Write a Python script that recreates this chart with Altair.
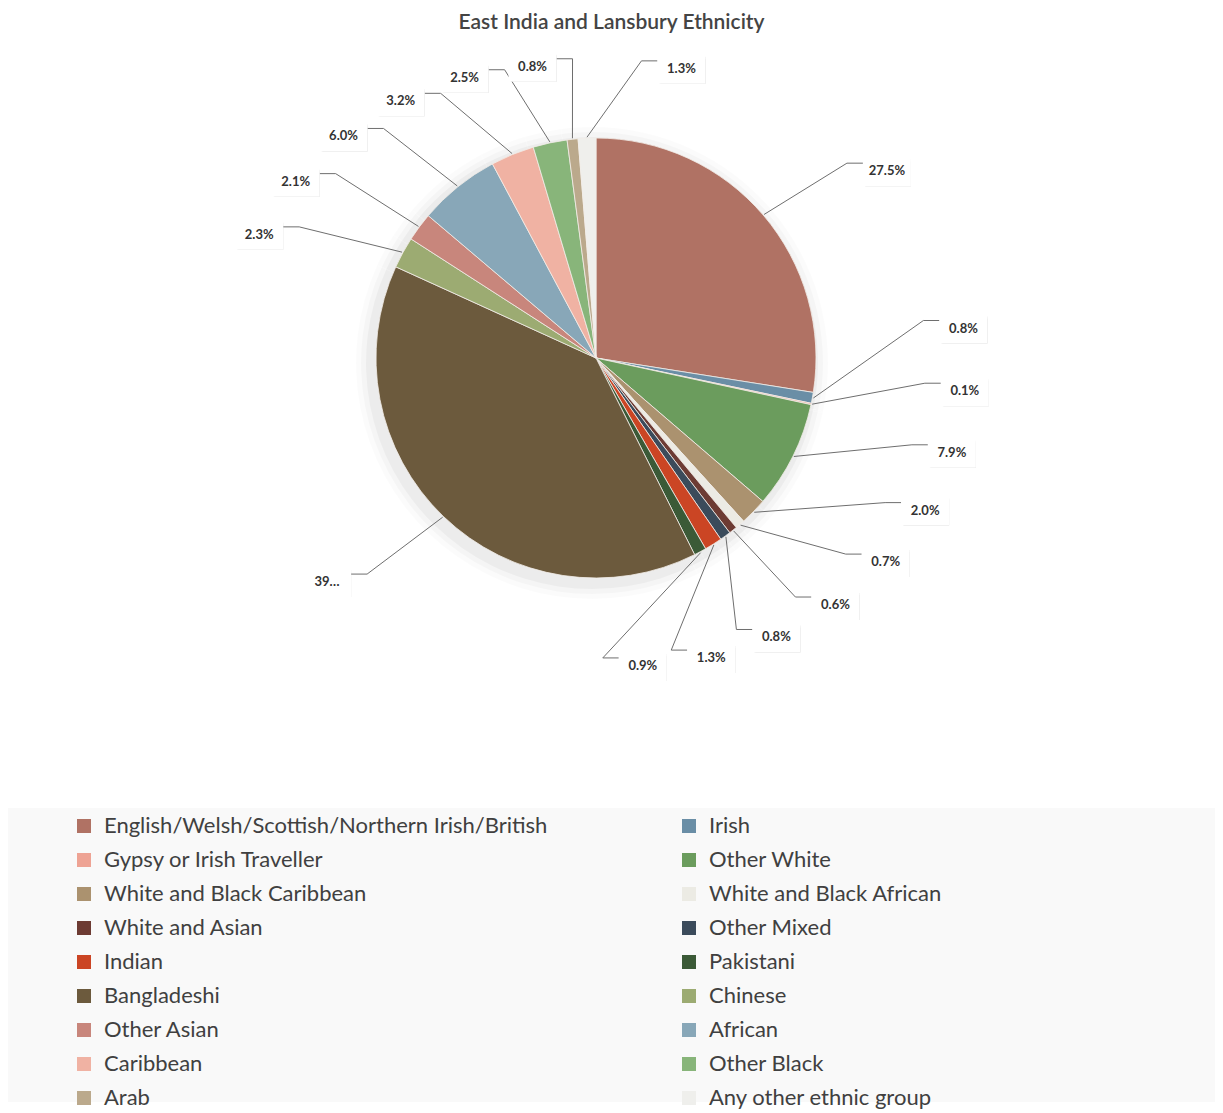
import altair as alt
import pandas as pd
import numpy as np

# ---------------- data ----------------
categories = [
    "English/Welsh/Scottish/Northern Irish/British", "Irish",
    "Gypsy or Irish Traveller", "Other White",
    "White and Black Caribbean", "White and Black African",
    "White and Asian", "Other Mixed",
    "Indian", "Pakistani",
    "Bangladeshi", "Chinese",
    "Other Asian", "African",
    "Caribbean", "Other Black",
    "Arab", "Any other ethnic group",
]
shares = [27.5, 0.8, 0.1, 7.9, 2.0, 0.7, 0.6, 0.8, 1.3, 0.9,
          39.2, 2.3, 2.1, 6.0, 3.2, 2.5, 0.8, 1.3]
label_texts = ["27.5%", "0.8%", "0.1%", "7.9%", "2.0%", "0.7%", "0.6%", "0.8%",
               "1.3%", "0.9%", "39…", "2.3%", "2.1%", "6.0%", "3.2%", "2.5%",
               "0.8%", "1.3%"]
colors = ["#b07264", "#6a8ea6", "#eea394", "#6b9c5d", "#ab926f", "#ecebe4",
          "#6d3b33", "#3b4b5b", "#cb4524", "#3b5a37", "#6c5a3d", "#9cab72",
          "#c8867c", "#88a7b8", "#f0b2a3", "#88b57a", "#bba98c", "#efefec"]

# legend reads row by row in two columns; Vega fills column by column
legend_domain = categories[0::2] + categories[1::2]
legend_range = colors[0::2] + colors[1::2]

# ---------------- layout constants ----------------
W, H = 1207, 1061
CX, CY, R = 588, 317, 220
RX, RY = 330, 300
BW, BH = 48, 30

df = pd.DataFrame({"cat": categories, "share": shares, "idx": range(len(shares)),
                   "lab": label_texts})

# label layout derived from the slice angles (pushed apart to avoid overlap)
vals = np.array(shares, dtype=float)
cum = np.concatenate([[0], np.cumsum(vals)[:-1]])
mid = (cum + vals / 2) / vals.sum() * 360.0
a = np.where(mid >= 260, mid - 360, mid)
order = np.argsort(a)
pos = a[order].copy()
gap = 12.0
for _ in range(3000):
    moved = False
    for i in range(len(pos) - 1):
        d = pos[i + 1] - pos[i]
        if d < gap - 1e-6:
            s = (gap - d) / 2
            pos[i] -= s
            pos[i + 1] += s
            moved = True
    if not moved:
        break
spread = np.empty_like(pos)
spread[order] = pos

rad = np.radians(mid)
lrad = np.radians(spread)
ex = CX + (R + 1) * np.sin(rad)
ey = CY - (R + 1) * np.cos(rad)
bx = CX + RX * np.sin(lrad)
by = CY - RY * np.cos(lrad)
side = np.where(np.sin(lrad) >= 0, 1, -1)
hx = bx + side * 16
hy = by

df["x0"] = np.where(side > 0, hx, hx - BW)
df["x1"] = df["x0"] + BW
df["y0"] = hy - BH / 2 + 8
df["y1"] = df["y0"] + BH
df["tx"] = (df["x0"] + df["x1"]) / 2
df["ty"] = (df["y0"] + df["y1"]) / 2

lines = []
for i in range(len(categories)):
    lines.append({"cat": categories[i], "o": 0, "px": ex[i], "py": ey[i]})
    lines.append({"cat": categories[i], "o": 1, "px": bx[i], "py": by[i]})
    lines.append({"cat": categories[i], "o": 2, "px": hx[i], "py": hy[i]})
lines_df = pd.DataFrame(lines)

band_df = pd.DataFrame({"band": [0]})

# ---------------- marks ----------------
band = alt.Chart(band_df).mark_rect(color="#f9f9f9").encode(
    x=alt.value(0), x2=alt.value(W), y=alt.value(767), y2=alt.value(H)
)

base = alt.Chart(df)

shadows = [
    base.mark_arc(outerRadius=R + rr, color="#000000", opacity=op, strokeWidth=0).encode(
        theta=alt.Theta("share:Q", stack=True),
        order=alt.Order("idx:Q"),
        x=alt.value(CX - 4), y=alt.value(CY + 5),
    )
    for rr, op in [(16, 0.015), (11, 0.025), (6, 0.035)]
]

pie = base.mark_arc(outerRadius=R, stroke="#f3ede8", strokeWidth=0.8).encode(
    theta=alt.Theta("share:Q", stack=True),
    order=alt.Order("idx:Q"),
    x=alt.value(CX), y=alt.value(CY),
    color=alt.Color(
        "cat:N",
        scale=alt.Scale(domain=legend_domain, range=legend_range),
        legend=alt.Legend(
            title=None, orient="none", legendX=65, legendY=774,
            columns=2, columnPadding=130, rowPadding=12,
            symbolType="square", symbolSize=196, symbolStrokeWidth=0,
            symbolOpacity=1,
            labelFontSize=22, labelFont="Lato", labelColor="#404040",
            labelLimit=700, labelOffset=9, padding=0,
        ),
    ),
)

leaders = alt.Chart(lines_df).mark_line(color="#6e6e6e", strokeWidth=1).encode(
    x=alt.X("px:Q", scale=None, axis=None),
    y=alt.Y("py:Q", scale=None, axis=None),
    detail="cat:N",
    order="o:Q",
)

box_sh1 = base.mark_rect(color="#000000", opacity=0.16).encode(
    x=alt.X("x0:Q", scale=None, axis=None), x2="x1:Q",
    y=alt.Y("y0:Q", scale=None, axis=None), y2="y1:Q",
    xOffset=alt.value(2), yOffset=alt.value(3),
)
box_sh2 = base.mark_rect(color="#000000", opacity=0.09).encode(
    x=alt.X("x0:Q", scale=None, axis=None), x2="x1:Q",
    y=alt.Y("y0:Q", scale=None, axis=None), y2="y1:Q",
    xOffset=alt.value(3), yOffset=alt.value(5),
)
boxes = base.mark_rect(color="#ffffff").encode(
    x=alt.X("x0:Q", scale=None, axis=None), x2="x1:Q",
    y=alt.Y("y0:Q", scale=None, axis=None), y2="y1:Q",
)
texts = base.mark_text(fontSize=13, fontWeight="bold", font="Lato", color="#333333").encode(
    x=alt.X("tx:Q", scale=None, axis=None),
    y=alt.Y("ty:Q", scale=None, axis=None),
    text="lab:N",
)

chart = alt.layer(
    band, *shadows, pie, leaders, box_sh2, box_sh1, boxes, texts
).properties(
    width=W, height=H,
    padding={"top": 4, "left": 0, "right": 0, "bottom": 0},
    title=alt.TitleParams("East India and Lansbury Ethnicity", fontSize=21,
                          font="Lato", fontWeight=600, color="#444444",
                          anchor="middle", offset=8),
).configure_view(strokeWidth=0)

chart.save("out.html", embed_options={"renderer": "svg", "actions": False})
